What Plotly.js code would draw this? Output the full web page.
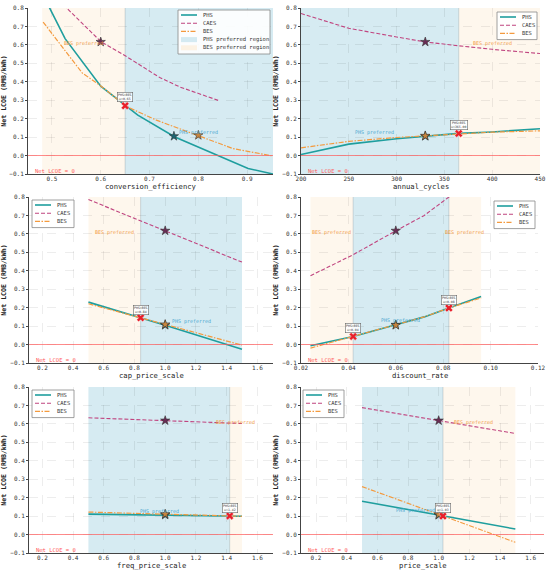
<!DOCTYPE html>
<html><head><meta charset="utf-8">
<script src="https://cdn.plot.ly/plotly-3.0.1.min.js"></script>
<style>html,body{margin:0;padding:0;background:#fff}#chart{width:550px;height:573px}</style>
</head><body><div id="chart"></div>
<script>
// ---------- data ----------
// Panel 1: conversion_efficiency
const p1_phs_x = [0.48, 0.527, 0.60, 0.652, 0.676, 0.752, 0.83, 0.902, 0.953];
const p1_phs_y = [0.88, 0.634, 0.376, 0.267, 0.219, 0.101, 0.01, -0.07, -0.10];
const p1_caes_x = [0.48, 0.529, 0.601, 0.652, 0.721, 0.762, 0.844];
const p1_caes_y = [0.93, 0.805, 0.616, 0.538, 0.423, 0.372, 0.296];
const p1_bes_x = [0.482, 0.562, 0.601, 0.652, 0.714, 0.803, 0.871, 0.95];
const p1_bes_y = [0.724, 0.448, 0.376, 0.267, 0.192, 0.105, 0.038, -0.001];
const p1_stars = {phs: [0.75, 0.105], caes: [0.60, 0.616], bes: [0.80, 0.11]};
const p1_cross = [[0.65, 0.27]];
const p1_bes_region = [[0.48, 0.65]];
const p1_phs_region = [[0.65, 0.953]];

// Panel 2: annual_cycles
const p2_x = [200, 250, 300, 330, 365, 400, 450];
const p2_phs = [0.006, 0.062, 0.091, 0.105, 0.12, 0.128, 0.145];
const p2_caes = [0.77, 0.69, 0.643, 0.616, 0.595, 0.576, 0.553];
const p2_bes = [0.042, 0.077, 0.098, 0.107, 0.12, 0.127, 0.134];
const p2_stars = {phs: [330, 0.105], caes: [330, 0.616], bes: [330, 0.107]};
const p2_cross = [[365, 0.12]];
const p2_phs_region = [[200, 365]];
const p2_bes_region = [[365, 450]];

// Panel 3: cap_price_scale
const p3_x = [0.5, 1.0, 1.5];
const p3_phs = [0.230, 0.105, -0.025];
const p3_caes = [0.786, 0.617, 0.447];
const p3_bes = [0.221, 0.109, -0.003];
const p3_stars = {phs: [1.0, 0.105], caes: [1.0, 0.617], bes: [1.0, 0.109]};
const p3_cross = [[0.84, 0.145]];
const p3_bes_region = [[0.5, 0.84]];
const p3_phs_region = [[0.84, 1.5]];

// Panel 4: discount_rate
const p4_x = [0.024, 0.03, 0.042, 0.06, 0.072, 0.0824, 0.096];
const p4_phs = [-0.006, 0.012, 0.044, 0.107, 0.150, 0.198, 0.261];
const p4_caes = [0.373, 0.41, 0.487, 0.617, 0.70, 0.80, 0.93];
const p4_bes = [-0.019, 0.002, 0.044, 0.105, 0.150, 0.198, 0.253];
const p4_stars = {phs: [0.06, 0.107], caes: [0.06, 0.617], bes: [0.06, 0.105]};
const p4_cross = [[0.042, 0.044], [0.0824, 0.198]];
const p4_bes_region = [[0.024, 0.042], [0.0824, 0.096]];
const p4_phs_region = [[0.042, 0.0824]];

// Panel 5: freq_price_scale
const p5_x = [0.5, 1.0, 1.5];
const p5_phs = [0.111, 0.106, 0.099];
const p5_caes = [0.633, 0.618, 0.602];
const p5_bes = [0.122, 0.111, 0.099];
const p5_stars = {phs: [1.0, 0.106], caes: [1.0, 0.618], bes: [1.0, 0.111]};
const p5_cross = [[1.42, 0.101]];
const p5_phs_region = [[0.5, 1.42]];
const p5_bes_region = [[1.42, 1.5]];

// Panel 6: price_scale
const p6_x = [0.5, 1.0, 1.5];
const p6_phs = [0.181, 0.105, 0.030];
const p6_caes = [0.688, 0.618, 0.548];
const p6_bes = [0.260, 0.109, -0.042];
const p6_stars = {phs: [1.0, 0.105], caes: [1.0, 0.618], bes: [1.0, 0.109]};
const p6_cross = [[1.028, 0.100]];
const p6_phs_region = [[0.5, 1.028]];
const p6_bes_region = [[1.028, 1.5]];

const xTitles = ['conversion_efficiency', 'annual_cycles', 'cap_price_scale', 'discount_rate', 'freq_price_scale', 'price_scale'];
const yTitle = 'Net LCOE (RMB/kWh)';
const seriesNames = ['PHS', 'CAES', 'BES'];
const regionNames = ['PHS preferred region', 'BES preferred region'];
const phsLabel = 'PHS preferred', besLabel = 'BES preferred', zeroLabel = 'Net LCOE = 0';

// ---------- style ----------
const C_PHS = '#1f9e9e', C_CAES = '#c0447f', C_BES = '#f49a3e';
const REG_PHS = 'rgba(173,216,230,0.5)', REG_BES = 'rgba(253,228,196,0.3)';
const FONT = 'DejaVu Sans Mono, Liberation Mono, monospace';
const W = 550, H = 573;
const boxes = [
  [28, 273, 8, 174], [301, 540, 8, 174],
  [29, 273, 197, 363], [301, 538, 197, 363],
  [29, 273, 387, 553], [301, 544, 387, 553]
];
const ranges = [[0.451, 0.953], [200, 450], [0.113, 1.702], [0.02, 0.12], [0.113, 1.702], [0.102, 1.687]];
const dticks = [0.1, 50, 0.2, 0.02, 0.2, 0.2];
const tfmt = ['.1f', 'd', '.1f', '.2f', '.1f', '.1f'];
// legend boxes in px: left, top, width, rows
const legBoxes = [[178, 10, 92, 5], [497, 12, 40, 3], [32, 200, 42, 3], [494, 201, 41, 3], [32, 390, 42, 3], [303, 390, 41, 3]];
const lineStyles = [
  {color: C_PHS, width: 1.6, dash: 'solid'},
  {color: C_CAES, width: 1.1, dash: '4px,2px'},
  {color: C_BES, width: 1.2, dash: '5px,1.5px,1.5px,1.5px'}
];

const panels = [
  {phsX: p1_phs_x, phsY: p1_phs_y, caesX: p1_caes_x, caesY: p1_caes_y, besX: p1_bes_x, besY: p1_bes_y,
   stars: p1_stars, cross: p1_cross, phsReg: p1_phs_region, besReg: p1_bes_region,
   phsTxt: [0.80, 0.127], besTxt: [0.565, 0.61], crossTxt: ['PHS=BES<br>x=0.65']},
  {phsX: p2_x, phsY: p2_phs, caesX: p2_x, caesY: p2_caes, besX: p2_x, besY: p2_bes,
   stars: p2_stars, cross: p2_cross, phsReg: p2_phs_region, besReg: p2_bes_region,
   phsTxt: [277, 0.127], besTxt: [400, 0.605], crossTxt: ['PHS=BES<br>x=365.00']},
  {phsX: p3_x, phsY: p3_phs, caesX: p3_x, caesY: p3_caes, besX: p3_x, besY: p3_bes,
   stars: p3_stars, cross: p3_cross, phsReg: p3_phs_region, besReg: p3_bes_region,
   phsTxt: [1.17, 0.125], besTxt: [0.67, 0.61], crossTxt: ['PHS=BES<br>x=0.84']},
  {phsX: p4_x, phsY: p4_phs, caesX: p4_x, caesY: p4_caes, besX: p4_x, besY: p4_bes,
   stars: p4_stars, cross: p4_cross, phsReg: p4_phs_region, besReg: p4_bes_region,
   phsTxt: [0.062, 0.128], besTxt: [0.033, 0.607], besTxt2: [0.089, 0.607],
   crossTxt: ['PHS=BES<br>x=0.04', 'PHS=BES<br>x=0.08']},
  {phsX: p5_x, phsY: p5_phs, caesX: p5_x, caesY: p5_caes, besX: p5_x, besY: p5_bes,
   stars: p5_stars, cross: p5_cross, phsReg: p5_phs_region, besReg: p5_bes_region,
   phsTxt: [0.96, 0.127], besTxt: [1.46, 0.607], crossTxt: ['PHS=BES<br>x=1.42']},
  {phsX: p6_x, phsY: p6_phs, caesX: p6_x, caesY: p6_caes, besX: p6_x, besY: p6_bes,
   stars: p6_stars, cross: p6_cross, phsReg: p6_phs_region, besReg: p6_bes_region,
   phsTxt: [0.85, 0.13], besTxt: [1.23, 0.607], crossTxt: ['PHS=BES<br>x=1.03']}
];

const traces = [], shapes = [], annotations = [];
const layout = {
  width: W, height: H, margin: {l: 0, r: 0, t: 0, b: 0}, showlegend: false,
  paper_bgcolor: '#fff', plot_bgcolor: '#fff',
  font: {family: FONT, size: 7, color: '#333'},
  shapes: shapes, annotations: annotations
};
const px = v => v / W, py = v => 1 - v / H;

panels.forEach((p, i) => {
  const n = i + 1;
  const xa = n === 1 ? 'x' : 'x' + n, ya = n === 1 ? 'y' : 'y' + n;
  const b = boxes[i];
  layout[n === 1 ? 'xaxis' : 'xaxis' + n] = {
    domain: [px(b[0]), px(b[1])], anchor: ya, range: ranges[i], dtick: dticks[i], tick0: 0,
    tickformat: tfmt[i], showline: true, linecolor: '#444', linewidth: 1, mirror: false,
    ticks: '', ticklabelstandoff: -1, tickfont: {size: 6, color: '#333'},
    showgrid: true, gridcolor: 'rgba(0,0,0,0.07)', griddash: 'dash', zeroline: false
  };
  layout[n === 1 ? 'yaxis' : 'yaxis' + n] = {
    domain: [py(b[3]), py(b[2])], anchor: xa, range: [-0.1, 0.8], dtick: 0.1, tick0: 0,
    tickformat: '.1f', showline: true, linecolor: '#444', linewidth: 1, mirror: false,
    ticks: 'outside', ticklen: 2, tickcolor: '#444', tickfont: {size: 6, color: '#333'},
    showgrid: true, gridcolor: 'rgba(0,0,0,0.07)', griddash: 'dash', zeroline: false,
    title: {text: '<b>' + yTitle + '</b>', font: {size: 6.6, color: '#222'}, standoff: 3}
  };
  // x title as annotation
  annotations.push({xref: 'paper', yref: 'paper', x: px((b[0] + b[1]) / 2), y: py(b[3] + 12.5),
    xanchor: 'center', yanchor: 'middle', text: xTitles[i], showarrow: false, font: {size: 7.2, color: '#222'}});
  // regions
  p.phsReg.forEach(r => shapes.push({type: 'rect', xref: xa, yref: ya + ' domain', x0: r[0], x1: r[1], y0: 0, y1: 1,
    fillcolor: REG_PHS, line: {width: 0}, layer: 'below'}));
  p.besReg.forEach(r => shapes.push({type: 'rect', xref: xa, yref: ya + ' domain', x0: r[0], x1: r[1], y0: 0, y1: 1,
    fillcolor: REG_BES, line: {width: 0}, layer: 'below'}));
  p.cross.forEach(c => shapes.push({type: 'line', xref: xa, yref: ya + ' domain', x0: c[0], x1: c[0], y0: 0, y1: 1,
    line: {color: 'rgba(120,140,150,0.3)', width: 1}, layer: 'below'}));
  // zero line
  shapes.push({type: 'line', xref: xa + ' domain', yref: ya, x0: 0, x1: 1, y0: 0, y1: 0,
    line: {color: 'rgba(255,90,90,0.7)', width: 1.1}});
  const xs = [p.phsX, p.caesX, p.besX], ys = [p.phsY, p.caesY, p.besY];
  for (let k = 0; k < 3; k++) {
    traces.push({x: xs[k], y: ys[k], xaxis: xa, yaxis: ya, name: seriesNames[k], mode: 'lines',
      line: lineStyles[k], showlegend: false});
  }
  // stars
  const st = p.stars;
  traces.push({x: [st.caes[0]], y: [st.caes[1]], xaxis: xa, yaxis: ya, mode: 'markers', showlegend: false,
    marker: {symbol: 'star', size: 7, color: '#6a2c55', line: {color: '#333', width: 0.6}}});
  traces.push({x: [st.phs[0]], y: [st.phs[1]], xaxis: xa, yaxis: ya, mode: 'markers', showlegend: false,
    marker: {symbol: 'star', size: 7, color: '#1d6470', line: {color: '#333', width: 0.6}}});
  traces.push({x: [st.bes[0]], y: [st.bes[1]], xaxis: xa, yaxis: ya, mode: 'markers', showlegend: false,
    marker: {symbol: 'star', size: 7, color: '#c9863e', line: {color: '#333', width: 0.6}}});
  // crossovers
  traces.push({x: p.cross.map(c => c[0]), y: p.cross.map(c => c[1]), xaxis: xa, yaxis: ya, mode: 'markers',
    showlegend: false, marker: {symbol: 'x', size: 7, color: '#e8202a', line: {color: '#fff', width: 0.4}}});
  p.cross.forEach((c, k) => annotations.push({xref: xa, yref: ya, x: c[0], y: c[1] + 0.045,
    text: p.crossTxt[k], showarrow: false, font: {size: 3.2, color: '#333'},
    bgcolor: 'rgba(255,255,255,0.85)', bordercolor: '#666', borderwidth: 0.6, borderpad: 0.5}));
  // texts
  annotations.push({xref: xa, yref: ya, x: p.phsTxt[0], y: p.phsTxt[1], text: phsLabel, showarrow: false,
    font: {size: 5, color: '#4aa8d0'}});
  annotations.push({xref: xa, yref: ya, x: p.besTxt[0], y: p.besTxt[1], text: besLabel, showarrow: false,
    font: {size: 5, color: '#f4a04a'}});
  if (p.besTxt2) annotations.push({xref: xa, yref: ya, x: p.besTxt2[0], y: p.besTxt2[1], text: besLabel,
    showarrow: false, font: {size: 5, color: '#f4a04a'}});
  annotations.push({xref: xa + ' domain', yref: ya, x: 0.02, y: -0.085, xanchor: 'left', text: zeroLabel,
    showarrow: false, font: {size: 5.5, color: '#ff5a5a'}});
  // custom legend
  const lb = legBoxes[i], rows = lb[3], rowH = 8.2;
  const top = lb[1], left = lb[0], wdt = lb[2], hgt = rows * rowH + 3;
  shapes.push({type: 'rect', xref: 'paper', yref: 'paper', x0: px(left), x1: px(left + wdt), y0: py(top + hgt), y1: py(top),
    fillcolor: 'rgba(255,255,255,0.9)', line: {color: '#888', width: 0.8}});
  const names = rows === 5 ? seriesNames.concat(regionNames) : seriesNames;
  names.forEach((nm, k) => {
    const yy = top + 5 + k * rowH;
    if (k < 3) {
      shapes.push({type: 'line', xref: 'paper', yref: 'paper', x0: px(left + 3), x1: px(left + 19), y0: py(yy), y1: py(yy),
        line: lineStyles[k]});
    } else {
      shapes.push({type: 'rect', xref: 'paper', yref: 'paper', x0: px(left + 3), x1: px(left + 19), y0: py(yy + 2.5), y1: py(yy - 2.5),
        fillcolor: k === 3 ? REG_PHS : 'rgba(253,228,196,0.45)', line: {width: 0}});
    }
    annotations.push({xref: 'paper', yref: 'paper', x: px(left + 23), y: py(yy), xanchor: 'left', yanchor: 'middle',
      text: nm, showarrow: false, font: {size: 5.5, color: '#333'}});
  });
});

Plotly.newPlot('chart', traces, layout, {displayModeBar: false, staticPlot: true});
</script></body></html>
